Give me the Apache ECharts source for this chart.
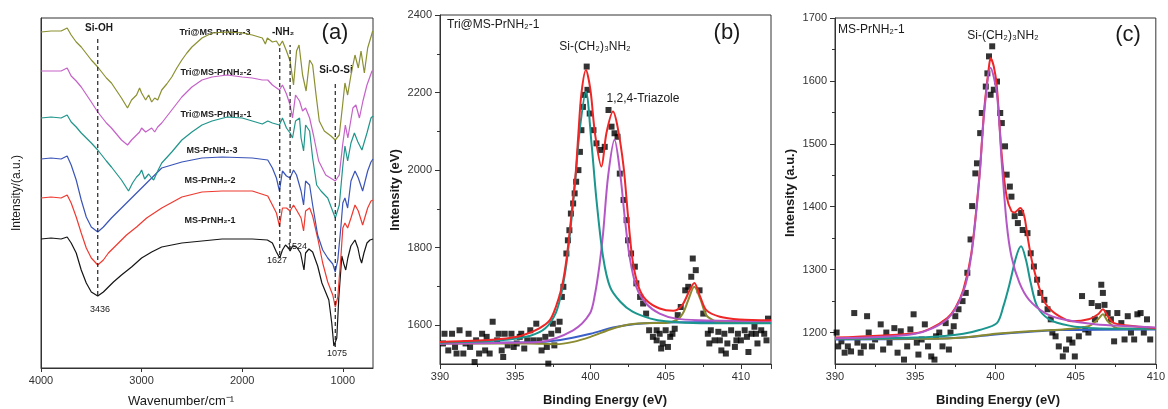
<!DOCTYPE html>
<html>
<head>
<meta charset="utf-8">
<script src="https://cdn.jsdelivr.net/npm/echarts@6/dist/echarts.min.js"></script>
<style>
  html, body { margin: 0; padding: 0; background: #fff; }
  #main { width: 1168px; height: 409px; }
</style>
</head>
<body>
<div id="main"></div>
<script>
// ---- panel (a): FTIR spectra, [wavenumber, offset intensity]
var ftirMs1 = [[4000,129],[3900,130],[3800,129],[3740,131],[3700,125],[3650,115],[3600,98],[3550,85],[3500,76],[3436,72],[3380,76],[3330,81],[3280,86],[3200,93],[3100,101],[3000,110],[2900,116],[2800,121],[2600,125],[2400,127],[2200,129],[1900,129],[1750,128],[1700,125],[1660,116],[1627,110],[1600,118],[1570,123],[1540,120],[1524,117],[1500,122],[1460,121],[1420,115],[1386,98],[1370,115],[1337,119],[1300,116],[1250,102],[1208,85],[1139,68],[1110,45],[1089,22],[1075,20],[1060,30],[1040,70],[1010,112],[990,104],[971,98],[950,110],[920,122],[879,128],[850,120],[830,110],[813,105],[790,115],[760,125],[730,128],[700,129]];
var ftirMs2 = [[4000,170],[3900,171],[3800,170],[3740,173],[3700,165],[3650,151],[3600,135],[3550,120],[3500,110],[3436,103],[3380,108],[3330,115],[3250,123],[3150,133],[3050,141],[2950,150],[2800,160],[2600,171],[2400,176],[2200,177],[1900,177],[1746,172],[1700,163],[1660,155],[1630,142],[1600,160],[1560,160],[1524,157],[1490,163],[1460,158],[1415,150],[1390,137],[1370,157],[1330,160],[1300,152],[1250,130],[1200,105],[1150,86],[1100,73],[1075,61],[1050,71],[1020,110],[1000,140],[979,145],[952,140],[919,150],[879,163],[846,157],[803,143],[753,160],[720,167],[700,168]];
var ftirMs3 = [[4000,209],[3900,210],[3800,209],[3740,212],[3700,203],[3650,188],[3600,168],[3550,151],[3500,141],[3436,136],[3380,141],[3300,150],[3200,160],[3100,170],[3000,180],[2900,190],[2800,200],[2600,206],[2400,210],[2200,211],[1900,210],[1746,208],[1700,200],[1660,190],[1630,177],[1600,197],[1560,192],[1524,190],[1490,198],[1460,193],[1415,177],[1390,163],[1370,187],[1330,183],[1300,163],[1250,133],[1200,118],[1150,110],[1100,104],[1075,96],[1050,108],[1020,140],[1000,165],[979,170],[952,160],[919,187],[879,197],[846,190],[803,177],[753,197],[720,206],[700,209]];
var ftirTri1 = [[4000,250],[3900,251],[3800,250],[3740,253],[3700,246],[3650,241],[3600,235],[3500,225],[3436,218],[3350,207],[3300,201],[3200,188],[3130,177],[3090,185],[3050,191],[3020,194],[3000,198],[2970,189],[2930,194],[2900,190],[2880,188],[2840,197],[2800,205],[2700,216],[2600,228],[2500,236],[2400,243],[2300,247],[2150,251],[2000,250],[1900,247],[1800,244],[1746,247],[1700,245],[1630,243],[1600,250],[1560,240],[1524,235],[1500,230],[1470,247],[1430,250],[1415,230],[1390,217],[1370,243],[1330,237],[1300,210],[1260,183],[1217,177],[1150,170],[1075,150],[1035,163],[1002,200],[979,222],[952,207],[919,225],[885,235],[850,226],[810,218],[760,235],[720,250],[700,252]];
var ftirTri2 = [[4000,297],[3900,297],[3800,297],[3740,300],[3700,292],[3650,287],[3600,281],[3500,266],[3436,256],[3350,245],[3300,240],[3200,228],[3140,223],[3100,228],[3050,233],[3020,236],[3000,240],[2960,236],[2930,238],[2900,240],[2870,236],[2840,241],[2800,245],[2700,258],[2600,271],[2500,281],[2400,288],[2300,291],[2150,293],[2000,291],[1900,290],[1800,288],[1746,288],[1700,283],[1630,278],[1600,283],[1560,274],[1524,263],[1500,250],[1470,273],[1430,267],[1400,257],[1370,260],[1330,250],[1290,232],[1240,207],[1170,193],[1075,187],[1035,193],[1002,223],[975,243],[950,230],[900,260],[870,263],[835,250],[800,267],[760,283],[710,297],[700,297]];
var ftirTri3 = [[4000,336],[3900,337],[3800,337],[3740,340],[3700,333],[3650,326],[3600,321],[3500,308],[3436,301],[3350,290],[3300,285],[3200,270],[3140,260],[3100,268],[3050,273],[3020,280],[3000,275],[2960,268],[2930,273],[2900,266],[2870,270],[2840,268],[2800,278],[2750,284],[2700,291],[2650,300],[2600,308],[2550,315],[2500,321],[2400,330],[2300,335],[2150,336],[2000,335],[1900,333],[1800,330],[1770,324],[1750,330],[1700,326],[1660,327],[1630,322],[1600,327],[1560,317],[1524,307],[1490,283],[1460,317],[1435,323],[1400,293],[1365,277],[1330,308],[1300,303],[1266,273],[1234,247],[1184,237],[1118,232],[1075,228],[1035,233],[1002,263],[979,285],[952,273],[919,293],[879,313],[846,300],[819,317],[786,295],[753,320],[703,337]];
// dashed guide lines: [wavenumber, bottom, top]
var peakGuides = [[3436,73,331],[1627,113,323],[1524,118,323],[1075,21,285]];
var ftirTicks = [1000,2000,3000,4000];

// ---- panel (b): XPS N1s Tri@MS-PrNH2-1
var xpsBPoints = [[390.2,1553],[390.55,1535],[390.8,1578],[391.0,1544],[391.3,1587],[391.55,1527],[391.9,1578],[392.0,1544],[392.3,1505],[392.4,1561],[392.8,1578],[393.0,1535],[393.3,1527],[393.5,1609],[393.8,1561],[394.1,1535],[394.3,1578],[394.5,1548],[394.75,1578],[395.1,1553],[395.4,1578],[395.6,1540],[396.0,1587],[396.2,1561],[396.4,1604],[396.75,1535],[397.0,1570],[397.2,1501],[397.4,1578],[397.6,1548],[397.85,1587],[397.95,1609],[398.1,1673],[398.2,1699],[398.4,1785],[398.5,1819],[398.6,1845],[398.7,1888],[398.85,1914],[398.95,1940],[399.05,1970],[399.2,2000],[399.3,2047],[399.4,2103],[399.5,2163],[399.6,2194],[399.75,2267],[399.8,2207],[399.95,2146],[400.2,2103],[400.4,2069],[400.7,2052],[400.95,2060],[401.2,2155],[401.4,2112],[401.6,2095],[401.8,2086],[401.95,1991],[402.2,1923],[402.4,1871],[402.5,1819],[402.7,1785],[402.95,1751],[403.05,1708],[403.3,1673],[403.5,1656],[403.7,1630],[403.9,1587],[404.15,1570],[404.4,1561],[404.6,1578],[404.8,1553],[405.0,1587],[405.3,1570],[405.6,1591],[405.8,1626],[406.0,1647],[406.3,1690],[406.5,1699],[406.7,1725],[406.8,1772],[407.0,1742],[407.25,1690],[407.5,1630],[407.8,1578],[408.0,1587],[408.25,1561],[408.5,1583],[408.7,1535],[408.9,1578],[409.1,1553],[409.35,1587],[409.6,1544],[409.8,1578],[410.0,1561],[410.25,1587],[410.5,1531],[410.7,1578],[410.9,1596],[411.1,1553],[411.35,1587],[411.55,1578],[411.8,1617],
  [390.3,1578],[391.1,1527],[391.7,1553],[392.6,1527],[393.1,1570],[393.9,1578],[394.2,1518],[394.9,1544],[395.3,1570],[395.8,1561],[396.6,1561],[397.1,1544],[397.5,1604],[404.4,1587],[404.7,1540],[405.15,1544],[405.45,1578],[407.9,1553],[408.6,1561],[409.0,1527],[409.7,1561],[410.4,1570],[411.0,1578],[411.7,1561]];
var xpsBEnvelope = [[390,1557],[392.2,1560],[394.4,1566],[395.5,1574],[396.6,1592],[397.3,1613],[397.7,1647],[398.1,1699],[398.4,1768],[398.7,1871],[399.0,1983],[399.2,2095],[399.4,2198],[399.7,2258],[400.0,2206],[400.3,2095],[400.73,2009],[401.06,2095],[401.5,2151],[401.8,2112],[402.2,2009],[402.5,1880],[402.8,1768],[403.2,1699],[403.7,1665],[404.6,1643],[405.5,1637],[406.1,1652],[406.6,1691],[406.9,1709],[407.3,1673],[407.7,1639],[408.6,1622],[409.9,1615],[412,1613]];
var xpsBAmine = [[390,1555],[394,1561],[396,1573],[397,1592],[397.7,1632],[398.1,1688],[398.4,1758],[398.7,1858],[399.0,1978],[399.3,2108],[399.7,2202],[400.07,2069],[400.4,1923],[400.84,1776],[401.3,1699],[402,1660],[402.8,1635],[404,1617],[405,1610],[407.3,1605],[412,1605]];
var xpsBTriazole = [[390,1552],[395,1555],[396.6,1557],[398.85,1587],[399.96,1630],[400.3,1680],[400.6,1755],[400.84,1837],[401.17,1983],[401.6,2078],[401.95,2000],[402.3,1871],[402.6,1777],[403.05,1699],[403.7,1656],[404.6,1630],[405.7,1617],[407.3,1613],[412,1610]];
var xpsBThird = [[390,1553],[396,1553],[397.7,1551],[398.85,1557],[400,1570],[401.3,1589],[402.3,1600],[403.5,1605],[405,1606],[405.8,1615],[406.2,1635],[406.5,1665],[406.9,1699],[407.3,1668],[407.7,1626],[408.2,1612],[408.6,1609],[412,1609]];
var xpsBBackground = [[390,1555],[396,1556],[398,1562],[400,1578],[401.5,1594],[403,1603],[405,1607],[412,1609]];
var xpsBYTicks = [1600,1800,2000,2200,2400];
var xpsBYMinor = [1700,1900,2100,2300];

// ---- panel (c): XPS N1s MS-PrNH2-1
var xpsCPoints = [[390.1,1200],[390.2,1178],[390.4,1186],[390.6,1168],[390.8,1178],[391.0,1170],[391.2,1231],[391.4,1184],[391.6,1168],[391.8,1178],[392.0,1226],[392.1,1200],[392.3,1178],[392.5,1189],[392.85,1213],[393.0,1173],[393.2,1200],[393.4,1184],[393.7,1207],[393.9,1168],[394.1,1202],[394.3,1157],[394.5,1178],[394.7,1205],[394.9,1229],[395.1,1184],[395.2,1165],[395.4,1189],[395.6,1213],[395.8,1178],[396.0,1162],[396.2,1157],[396.3,1194],[396.5,1200],[396.7,1178],[396.9,1215],[397.1,1173],[397.2,1200],[397.4,1210],[397.5,1226],[397.7,1237],[397.95,1250],[398.15,1263],[398.25,1295],[398.45,1348],[398.55,1401],[398.75,1453],[398.85,1469],[399.05,1517],[399.15,1549],[399.4,1591],[399.5,1612],[399.6,1639],[399.8,1655],[399.7,1578],[399.9,1586],[400.1,1599],[400.3,1549],[400.4,1533],[400.6,1496],[400.7,1451],[400.9,1432],[401.0,1416],[401.2,1385],[401.4,1374],[401.6,1390],[401.7,1363],[402.0,1358],[402.2,1326],[402.4,1305],[402.6,1284],[402.8,1263],[403.05,1252],[403.25,1237],[403.45,1221],[403.55,1200],[403.75,1194],[403.95,1178],[404.2,1162],[404.4,1173],[404.6,1189],[404.8,1184],[404.95,1162],[405.2,1194],[405.4,1258],[405.6,1205],[405.8,1200],[406.0,1247],[406.2,1221],[406.4,1242],[406.6,1276],[406.7,1263],[406.8,1244],[407.0,1231],[407.2,1221],[407.4,1186],[407.6,1231],[407.85,1215],[408.05,1189],[408.25,1226],[408.45,1200],[408.65,1189],[408.85,1229],[409.05,1231],[409.25,1200],[409.45,1221],[409.65,1189],[408.85,1149]];
var xpsCEnvelope = [[390,1192],[395,1199],[396,1207],[397,1223],[397.5,1239],[398,1268],[398.5,1326],[399,1448],[399.3,1554],[399.6,1623],[399.7,1636],[399.9,1623],[400.09,1591],[400.4,1480],[400.7,1416],[401.0,1393],[401.2,1391],[401.55,1398],[401.8,1385],[402.0,1353],[402.3,1311],[402.7,1274],[403.1,1247],[403.8,1229],[404.8,1218],[405.8,1221],[406.4,1229],[406.7,1237],[407.0,1226],[407.4,1215],[408.7,1210],[410,1207]];
var xpsCAmine = [[390,1191],[395,1198],[397,1221],[398,1265],[398.5,1323],[399,1445],[399.3,1549],[399.7,1621],[400.09,1580],[400.4,1469],[400.7,1374],[401.0,1321],[401.5,1279],[402.1,1252],[403.1,1231],[404.2,1221],[406.2,1213],[410,1208]];
var xpsCSecond = [[390,1190],[395,1192],[397,1195],[398,1198],[399,1204],[400.09,1215],[400.5,1242],[400.9,1279],[401.3,1321],[401.6,1337],[401.9,1316],[402.2,1279],[402.6,1242],[403.35,1221],[404.6,1211],[406.2,1207],[410,1206]];
var xpsCThird = [[390,1190],[396,1190],[398,1192],[400,1198],[402.1,1202],[404.2,1205],[405.8,1210],[406.4,1221],[406.7,1229],[407.0,1218],[407.6,1207],[410,1206]];
var xpsCBackground = [[390,1189],[396,1190],[398,1192],[400,1197],[402,1201],[404,1204],[410,1205]];
var xpsCYTicks = [1200,1300,1400,1500,1600,1700];
var xpsCYMinor = [1250,1350,1450,1550,1650];

var FONT = 'Liberation Sans, Arial, sans-serif';
var myChart = echarts.init(document.getElementById('main'));

function lineSeries(data, color, xi, width) {
  return {
    type: 'line', data: data, xAxisIndex: xi, yAxisIndex: xi,
    showSymbol: false, symbol: 'none', smooth: xi > 0 ? 0.3 : false,
    lineStyle: { color: color, width: width }, itemStyle: { color: color },
    silent: true, animation: false, z: 3
  };
}

var series = [];
series.push(lineSeries(ftirMs1, '#151515', 0, 1.2));
series.push(lineSeries(ftirMs2, '#ee3a30', 0, 1.2));
series.push(lineSeries(ftirMs3, '#3a54b8', 0, 1.2));
series.push(lineSeries(ftirTri1, '#1f958b', 0, 1.2));
series.push(lineSeries(ftirTri2, '#c562c8', 0, 1.2));
series.push(lineSeries(ftirTri3, '#8b9030', 0, 1.2));
peakGuides.forEach(function (g) {
  series.push({
    type: 'line', xAxisIndex: 0, yAxisIndex: 0, data: [[g[0], g[1]], [g[0], g[2]]],
    showSymbol: false, symbol: 'none', silent: true, animation: false, z: 4,
    lineStyle: { color: '#222', width: 1.2, type: [4, 3] }
  });
});

function scatterSeries(data, xi) {
  return {
    type: 'scatter', data: data, xAxisIndex: xi, yAxisIndex: xi,
    symbol: 'rect', symbolSize: 6, itemStyle: { color: '#000' },
    silent: true, animation: false, z: 2
  };
}
series.push(scatterSeries(xpsBPoints, 1));
series.push(lineSeries(xpsBBackground, '#3a5fc8', 1, 2));
series.push(lineSeries(xpsBThird, '#8a8a30', 1, 2));
series.push(lineSeries(xpsBTriazole, '#b457c6', 1, 2));
series.push(lineSeries(xpsBAmine, '#1a968e', 1, 2));
series.push(lineSeries(xpsBEnvelope, '#ee2626', 1, 2));

series.push(scatterSeries(xpsCPoints, 2));
series.push(lineSeries(xpsCBackground, '#3a5fc8', 2, 2));
series.push(lineSeries(xpsCThird, '#8a8a30', 2, 2));
series.push(lineSeries(xpsCSecond, '#1a968e', 2, 2));
series.push(lineSeries(xpsCEnvelope, '#ee2626', 2, 2));
series.push(lineSeries(xpsCAmine, '#b457c6', 2, 2));

var axisLine = { show: true, onZero: false, lineStyle: { color: '#333', width: 1 } };
function plain(v) { return String(v); }
var axisLabel = { color: '#333', fontSize: 11, fontFamily: FONT, formatter: plain };

function txt(x, y, text, size, bold, align, rot) {
  return {
    type: 'text', x: x, y: y, rotation: rot || 0, silent: true,
    style: {
      text: text, fill: '#1a1a1a', align: align || 'center', verticalAlign: 'middle',
      font: (bold ? 'bold ' : '') + size + 'px ' + FONT
    }
  };
}

// extra left y axes that only carry the short minor ticks
function minorY(grid, min, max, vals) {
  return { type: 'value', gridIndex: grid, min: min, max: max, position: 'left',
    axisLine: { show: false, onZero: false }, splitLine: { show: false }, axisLabel: { show: false },
    axisTick: { show: true, length: 3, customValues: vals, lineStyle: { color: '#333' } } };
}

var option = {
  backgroundColor: '#fff',
  animation: false,
  grid: [
    { left: 41, top: 18, width: 332, height: 350, show: true, borderColor: '#333', borderWidth: 1 },
    { left: 440, top: 15, width: 331, height: 349, show: true, borderColor: '#333', borderWidth: 1 },
    { left: 835, top: 18, width: 327, height: 346, show: true, borderColor: '#333', borderWidth: 1 }
  ],
  xAxis: [
    { type: 'value', gridIndex: 0, min: 700, max: 4000, inverse: true,
      axisLine: axisLine, splitLine: { show: false },
      axisTick: { show: true, length: 4, customValues: ftirTicks, lineStyle: { color: '#333' } },
      axisLabel: Object.assign({ customValues: ftirTicks, margin: 7 }, axisLabel) },
    { type: 'value', gridIndex: 1, min: 390, max: 412, interval: 5,
      axisLine: axisLine, splitLine: { show: false },
      axisTick: { show: true, length: 5, lineStyle: { color: '#333' } },
      minorTick: { show: true, splitNumber: 2, length: 3, lineStyle: { color: '#333' } },
      axisLabel: Object.assign({ showMaxLabel: false, margin: 7 }, axisLabel) },
    { type: 'value', gridIndex: 2, min: 390, max: 410, interval: 5,
      axisLine: axisLine, splitLine: { show: false },
      axisTick: { show: true, length: 5, lineStyle: { color: '#333' } },
      minorTick: { show: true, splitNumber: 2, length: 3, lineStyle: { color: '#333' } },
      axisLabel: Object.assign({ margin: 7 }, axisLabel) }
  ],
  yAxis: [
    { type: 'value', gridIndex: 0, min: 0, max: 350,
      axisLine: axisLine, splitLine: { show: false },
      axisTick: { show: false }, axisLabel: { show: false } },
    { type: 'value', gridIndex: 1, min: 1500, max: 2400, position: 'left',
      axisLine: axisLine, splitLine: { show: false },
      axisTick: { show: true, length: 5, customValues: xpsBYTicks, lineStyle: { color: '#333' } },
      axisLabel: Object.assign({ customValues: xpsBYTicks, margin: 8 }, axisLabel) },
    { type: 'value', gridIndex: 2, min: 1150, max: 1700, position: 'left',
      axisLine: axisLine, splitLine: { show: false },
      axisTick: { show: true, length: 5, customValues: xpsCYTicks, lineStyle: { color: '#333' } },
      axisLabel: Object.assign({ customValues: xpsCYTicks, margin: 8 }, axisLabel) },
    minorY(1, 1500, 2400, xpsBYMinor),
    minorY(2, 1150, 1700, xpsCYMinor)
  ],
  graphic: [
    // panel (a)
    txt(99, 28, 'Si-OH', 10, true),
    txt(215, 33, 'Tri@MS-PrNH₂-3', 9, true),
    txt(283, 32, '-NH₂', 10, true),
    txt(335, 33, '(a)', 22, false),
    txt(216, 73, 'Tri@MS-PrNH₂-2', 9, true),
    txt(336, 70, 'Si-O-Si', 10, true),
    txt(216, 115, 'Tri@MS-PrNH₂-1', 9, true),
    txt(212, 151, 'MS-PrNH₂-3', 9, true),
    txt(210, 181, 'MS-PrNH₂-2', 9, true),
    txt(210, 221, 'MS-PrNH₂-1', 9, true),
    txt(277, 261, '1627', 9, false),
    txt(297, 247, '1524', 9, false),
    txt(100, 310, '3436', 9, false),
    txt(337, 354, '1075', 9, false),
    txt(17, 193, 'Intensity/(a.u.)', 12, false, 'center', Math.PI / 2),
    txt(181, 401, 'Wavenumber/cm⁻¹', 13, false),
    // panel (b)
    txt(447, 25, 'Tri@MS-PrNH₂-1', 12, false, 'left'),
    txt(595, 47, 'Si-(CH₂)₃NH₂', 12, false),
    txt(643, 99, '1,2,4-Triazole', 12, false),
    txt(727, 33, '(b)', 22, false),
    txt(395, 190, 'Intensity (eV)', 13, true, 'center', Math.PI / 2),
    txt(605, 400, 'Binding Energy (eV)', 13, true),
    // panel (c)
    txt(838, 30, 'MS-PrNH₂-1', 12, false, 'left'),
    txt(1003, 36, 'Si-(CH₂)₃NH₂', 12, false),
    txt(1128, 35, '(c)', 22, false),
    txt(790, 193, 'Intensity (a.u.)', 13, true, 'center', Math.PI / 2),
    txt(998, 400, 'Binding Energy (eV)', 13, true)
  ],
  series: series
};
myChart.setOption(option);
</script>
</body>
</html>
